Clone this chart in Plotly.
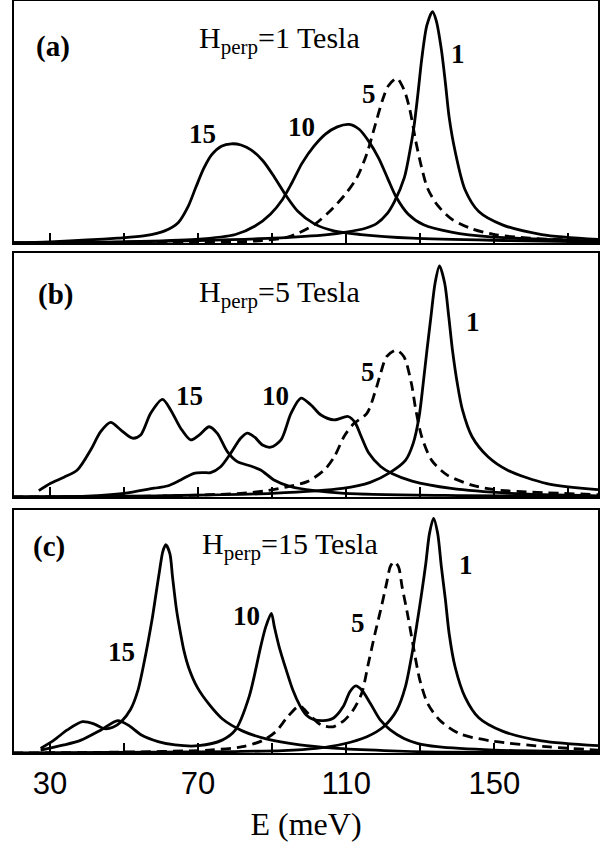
import plotly.graph_objects as go

# ---------------- data (E in meV, intensity in arb. units) ----------------
# Panel (a): H_perp = 1 Tesla
a_E1 = [20, 50, 70, 90, 105, 110, 115, 118.2, 121, 123.0, 125.7, 127.2, 128.3, 129.4, 130.4, 131.8, 133.3,
        134.3, 135.7, 136.8, 137.8, 139.4, 142.1, 145.8, 152.2, 162.8, 178]
a_I1 = [0.0, 0.004, 0.01, 0.02, 0.035, 0.045, 0.06, 0.08, 0.12, 0.17, 0.27, 0.38, 0.48, 0.62, 0.76, 0.90, 0.956,
        0.92, 0.80, 0.66, 0.52, 0.38, 0.22, 0.13, 0.075, 0.035, 0.015]
a_E5 = [20, 70, 85.4, 94.4, 101.3, 105.5, 109.7, 112.9, 115.6, 117.7, 119.8, 121.4, 123.7, 125.7, 127.2, 128.8,
        130.4, 132.0, 134.7, 138.4, 143.7, 150.0, 159.6, 178]
a_I5 = [0.0, 0.002, 0.008, 0.025, 0.075, 0.13, 0.2, 0.27, 0.37, 0.48, 0.59, 0.65, 0.68, 0.63, 0.55, 0.42,
        0.31, 0.225, 0.155, 0.1, 0.06, 0.035, 0.02, 0.008]
a_E10 = [20, 48, 69.4, 80.1, 85.4, 89.6, 92.8, 95.4, 98.1, 101.3, 104.4, 107.6, 110.8, 113.5, 116.1, 118.8,
         121.4, 123.5, 126.7, 130.9, 138.4, 149, 178]
a_I10 = [0.0, 0.005, 0.015, 0.035, 0.07, 0.12, 0.18, 0.25, 0.33, 0.40, 0.45, 0.48, 0.49, 0.47, 0.42, 0.35,
         0.26, 0.19, 0.12, 0.075, 0.045, 0.025, 0.008]
a_E15 = [20, 30, 48.2, 55.7, 61.0, 64.7, 67.3, 69.4, 71.6, 73.7, 76.3, 79.0, 81.6, 84.3, 87.5, 90.7, 93.8,
         97.0, 101.3, 106.6, 114.0, 127.8, 154.3, 178]
a_I15 = [0.0, 0.005, 0.02, 0.03, 0.05, 0.085, 0.15, 0.23, 0.31, 0.365, 0.40, 0.41, 0.405, 0.385, 0.34, 0.27, 0.195,
         0.13, 0.08, 0.05, 0.035, 0.02, 0.01, 0.004]

# Panel (b): H_perp = 5 Tesla
b_E1 = [20, 60, 90, 109, 116.5, 121.8, 126.0, 128.1, 129.7, 130.8, 131.8, 132.9, 134.0, 135.2, 136.6, 137.7,
        138.7, 140.0, 141.4, 144.0, 148.3, 153.6, 164.2, 178]
b_I1 = [0.0, 0.005, 0.015, 0.035, 0.06, 0.1, 0.15, 0.22, 0.33, 0.466, 0.60, 0.74, 0.876, 0.947, 0.876, 0.739,
        0.602, 0.466, 0.357, 0.247, 0.165, 0.11, 0.055, 0.03]
b_E5 = [20, 60, 69.8, 81.5, 88.7, 94.1, 99.5, 104.1, 106.8, 109.5, 112.0, 115.6, 117.7, 119.3, 120.9, 123.5,
        125.6, 127.6, 128.8, 130.4, 133.1, 137.3, 143.7, 150, 178]
b_I5 = [0.0, 0.004, 0.008, 0.015, 0.026, 0.042, 0.063, 0.111, 0.165, 0.25, 0.30, 0.343, 0.425, 0.507, 0.575, 0.602,
        0.575, 0.466, 0.357, 0.247, 0.15, 0.09, 0.05, 0.03, 0.01]
b_E10 = [20, 40, 50.0, 58.1, 61.7, 65.3, 68.9, 71.5, 73.4, 76.1, 78.8, 81.5, 83.3, 85.3, 87.4, 89.6, 92.4, 95.1,
         97.8, 100.5, 103.2, 106.8, 110.5, 112.4, 114.0, 116.1, 119.3, 122.5, 127.8, 138.4, 154.3, 178]
b_I10 = [0.0, 0.004, 0.015, 0.036, 0.045, 0.070, 0.097, 0.10, 0.100, 0.124, 0.179, 0.241, 0.262, 0.245, 0.213,
         0.204, 0.234, 0.343, 0.405, 0.377, 0.336, 0.316, 0.33, 0.305, 0.25, 0.18, 0.125, 0.095, 0.065, 0.035,
         0.015, 0.005]
b_E15 = [27.0, 30.2, 33.8, 37.4, 41.0, 43.7, 46.4, 49.1, 52.3, 54.5, 57.2, 60.4, 62.6, 65.3, 68.0, 70.3, 73.0,
         75.2, 77.9, 80.6, 84.2, 86.9, 90.5, 95.1, 101.4, 109.5, 140, 178]
b_I15 = [0.026, 0.056, 0.081, 0.111, 0.193, 0.268, 0.306, 0.275, 0.241, 0.254, 0.343, 0.400, 0.357, 0.282, 0.234,
         0.254, 0.288, 0.261, 0.186, 0.145, 0.127, 0.111, 0.070, 0.042, 0.026, 0.015, 0.006, 0.002]

# Panel (c): H_perp = 15 Tesla
c_E1 = [20, 60, 80, 92.9, 101.9, 109.2, 115.6, 120.1, 123.7, 126.0, 127.8, 129.2, 130.4, 131.5, 132.5, 133.6,
        134.7, 135.7, 136.8, 137.8, 139.4, 142.1, 145.8, 152.2, 162.8, 178]
c_I1 = [0.0, 0.003, 0.006, 0.01, 0.019, 0.037, 0.067, 0.108, 0.177, 0.273, 0.41, 0.54, 0.66, 0.78, 0.904, 0.966,
        0.904, 0.767, 0.63, 0.492, 0.355, 0.23, 0.145, 0.09, 0.05, 0.03]
c_E5 = [20, 50, 72.9, 82.0, 87.4, 91.0, 94.2, 97.4, 100.1, 103.3, 106.5, 109.6, 111.9, 114.2, 116.0, 117.8,
        119.3, 120.9, 121.9, 122.9, 124.1, 125.1, 126.7, 128.3, 129.9, 132.0, 135.2, 140.5, 149.0, 164.9, 178]
c_I5 = [0.0, 0.004, 0.012, 0.026, 0.051, 0.088, 0.149, 0.193, 0.156, 0.115, 0.108, 0.136, 0.177, 0.246, 0.369, 0.493,
        0.588, 0.698, 0.767, 0.787, 0.767, 0.684, 0.561, 0.424, 0.30, 0.204, 0.136, 0.08, 0.05, 0.025, 0.012]
c_E10 = [27.5, 33.8, 38.4, 43.8, 48.3, 51.1, 54.7, 59.2, 63.8, 70.1, 76.5, 80.1, 83.8, 86.9, 88.3, 89.8, 90.6,
         91.9, 93.8, 95.6, 97.4, 99.2, 101.0, 103.8, 106.5, 109.2, 111.0, 112.6, 114.2, 116.5, 119.2, 121.9, 125.6,
         129.2, 134.6, 150, 178]
c_I10 = [0.012, 0.033, 0.053, 0.095, 0.133, 0.115, 0.074, 0.047, 0.033, 0.03, 0.053, 0.095, 0.232, 0.437, 0.52,
         0.575, 0.52, 0.437, 0.342, 0.259, 0.198, 0.156, 0.139, 0.133, 0.143, 0.191, 0.252, 0.276, 0.259, 0.205,
         0.136, 0.095, 0.06, 0.04, 0.026, 0.012, 0.005]
c_E15 = [27.5, 31.1, 34.7, 38.8, 42.0, 44.7, 47.0, 49.3, 51.8, 53.8, 55.2, 56.6, 57.7, 58.6, 59.6, 60.5, 61.3,
         62.4, 63.1, 64.2, 65.3, 66.2, 67.5, 69.8, 73.0, 76.6, 82.1, 88.4, 97.5, 106.6, 120.3, 134.9, 178]
c_I15 = [0.019, 0.053, 0.095, 0.129, 0.119, 0.10, 0.106, 0.13, 0.18, 0.26, 0.355, 0.465, 0.56, 0.65, 0.75, 0.83,
         0.857, 0.82, 0.726, 0.588, 0.49, 0.42, 0.35, 0.27, 0.2, 0.14, 0.09, 0.058, 0.033, 0.02, 0.01, 0.004, 0.0]

panels = [
    dict(series=[(a_E15, a_I15, "15"), (a_E10, a_I10, "10"), (a_E5, a_I5, "5"), (a_E1, a_I1, "1")],
         tag="(a)", field="1"),
    dict(series=[(b_E15, b_I15, "15"), (b_E10, b_I10, "10"), (b_E5, b_I5, "5"), (b_E1, b_I1, "1")],
         tag="(b)", field="5"),
    dict(series=[(c_E15, c_I15, "15"), (c_E10, c_I10, "10"), (c_E5, c_I5, "5"), (c_E1, c_I1, "1")],
         tag="(c)", field="15"),
]

major_ticks = [30, 70, 110, 150]
major_text = ["30", "70", "110", "150"]
minor_ticks = [50, 90, 130, 170]

# label positions (E, I) per panel: tag, title, 15, 10, 5, 1
label_pos = [
    dict(tag=(30.8, 0.81), title=(91.9, 0.84), lab={"15": (71.1, 0.45), "10": (97.8, 0.479), "5": (116.2, 0.616), "1": (140.3, 0.781)}),
    dict(tag=(31.4, 0.83), title=(91.9, 0.83), lab={"15": (67.6, 0.414), "10": (90.8, 0.414), "5": (115.9, 0.512), "1": (144.3, 0.717)}),
    dict(tag=(29.7, 0.85), title=(94.9, 0.85), lab={"15": (49.2, 0.416), "10": (83.0, 0.564), "5": (113.2, 0.535), "1": (142.4, 0.774)}),
]

domains = [[0.6782, 1.0], [0.3404, 0.6649], [0.0, 0.3231]]

SERIF = "Liberation Serif, Times New Roman, serif"
SANS = "Liberation Sans, Arial, sans-serif"

fig = go.Figure()
layout = dict(
    width=608, height=854,
    margin=dict(l=14, r=10, t=1, b=101, autoexpand=False),
    plot_bgcolor="white", paper_bgcolor="white",
    showlegend=False,
)
annotations = []
for i, p in enumerate(panels):
    n = "" if i == 0 else str(i + 1)
    xa, ya = "x" + n, "y" + n
    for E, I, name in p["series"]:
        fig.add_trace(go.Scatter(
            x=E, y=I, mode="lines", name=name + " T", xaxis=xa, yaxis=ya,
            line=dict(color="black", width=2.8, shape="spline", smoothing=0.8,
                      dash="10px,6px" if name == "5" else "solid"),
            hoverinfo="skip"))
    last = i == 2
    layout["xaxis" + n] = dict(
        domain=[0, 1], anchor=ya, range=[20.3, 178], showgrid=False, zeroline=False,
        showline=True, mirror=True, linecolor="black", linewidth=2,
        ticks="inside", ticklen=10, tickwidth=1.5, tickcolor="black",
        tickmode="array", tickvals=major_ticks, ticktext=major_text,
        minor=dict(tickmode="array", tickvals=minor_ticks, ticks="inside", ticklen=10,
                   tickwidth=1.5, tickcolor="black", showgrid=False),
        showticklabels=last,
        tickfont=dict(family=SANS, size=31, color="black"),
        ticklabelstandoff=2,
        title=dict(text="E (meV)", font=dict(family=SERIF, size=32, color="black"), standoff=12) if last else None,
    )
    if i > 0:
        layout["xaxis" + n]["matches"] = "x"
    layout["yaxis" + n] = dict(
        domain=domains[i], anchor=xa, range=[0, 1.0], showgrid=False, zeroline=False,
        showline=True, mirror=True, linecolor="black", linewidth=2,
        ticks="", showticklabels=False,
    )
    lp = label_pos[i]
    annotations.append(dict(x=lp["tag"][0], y=lp["tag"][1], xref=xa, yref=ya, text="<b>" + p["tag"] + "</b>",
                            showarrow=False, font=dict(family=SERIF, size=29, color="black")))
    annotations.append(dict(x=lp["title"][0], y=lp["title"][1], xref=xa, yref=ya,
                            text="H<sub>perp</sub>=" + p["field"] + " Tesla",
                            showarrow=False, font=dict(family=SERIF, size=30, color="black")))
    for k, (lx, ly) in lp["lab"].items():
        annotations.append(dict(x=lx, y=ly, xref=xa, yref=ya, text="<b>" + k + "</b>", showarrow=False,
                                font=dict(family=SERIF, size=27, color="black")))
layout["annotations"] = annotations
fig.update_layout(**layout)
fig.write_html("out.html", config={"displayModeBar": False},
               post_script="document.body.style.margin='0';")
